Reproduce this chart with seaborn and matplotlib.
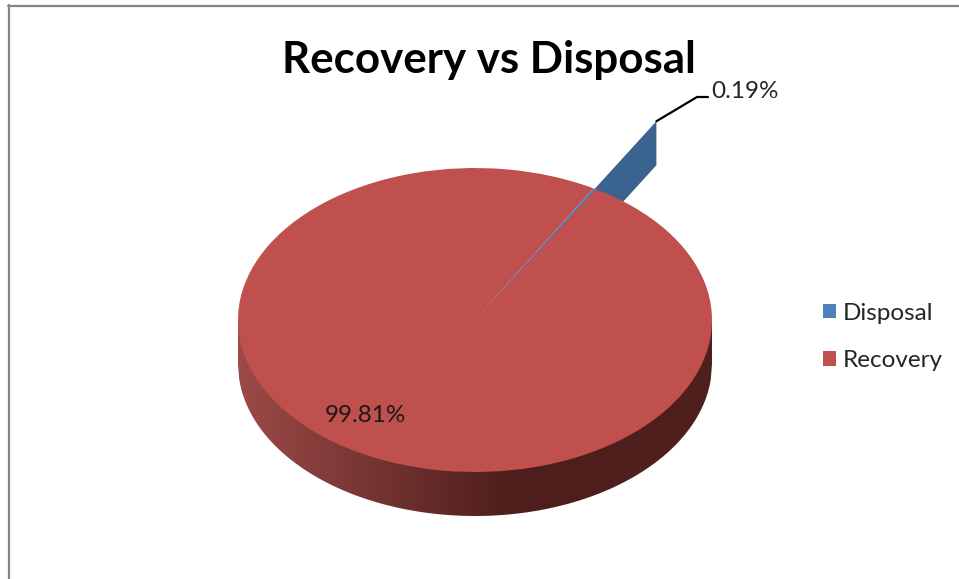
import numpy as np
import matplotlib
matplotlib.use("Agg")
import matplotlib.pyplot as plt
from matplotlib.colors import LinearSegmentedColormap
from matplotlib.lines import Line2D
from matplotlib.patches import Polygon
import seaborn as sns

labels = ["Disposal", "Recovery"]
shares = [0.19, 99.81]
title = "Recovery vs Disposal"

sns.set_theme(style="white")
plt.rcParams["font.family"] = ["Lato", "DejaVu Sans"]
palette = sns.color_palette(["#4F81BD", "#C0504D"])
blue_side = "#3B6390"
W, H = 959, 579
CX, CY, RX, RY = 475, 320, 237, 152
DEPTH = 44 / RY
START = 60
REACH = 1.515


def dx(px):
    return (px - CX) / RX


def dy(py):
    return (CY - py) / RY


fig = plt.figure(figsize=(W / 100, H / 100), dpi=100, facecolor="white")
ax = fig.add_axes([0, 0, 1, 1])

wedges, _ = ax.pie(shares, colors=palette, startangle=START, counterclock=False,
                   radius=1, wedgeprops=dict(linewidth=0, zorder=5))
ax.set_aspect("auto")
ax.set_xlim(dx(0), dx(W))
ax.set_ylim(dy(H), dy(0))
ax.set_axis_off()

# side wall of the large slice, shaded left to right
xs = np.linspace(-1, 1, 400)
lower = -np.sqrt(1 - xs ** 2) - DEPTH
wall = Polygon(np.r_[np.c_[xs, lower], [[1, 0], [-1, 0]]], closed=True,
               transform=ax.transData, facecolor="none", edgecolor="none")
ax.add_patch(wall)
cmap = LinearSegmentedColormap.from_list(
    "wall", [(0, "#9C4A47"), (0.58, "#4D1E1C"), (1, "#4F201E")])
img = ax.imshow(np.linspace(0, 1, 512)[None, :], extent=(-1, 1, -1 - DEPTH, 0),
                aspect="auto", cmap=cmap, zorder=2, interpolation="bilinear")
img.set_clip_path(wall)
ax.set_xlim(dx(0), dx(W))
ax.set_ylim(dy(H), dy(0))

# exploded small slice, seen as a raised side face behind the pie
ang = np.deg2rad(START - 360 * shares[0] / 100 / 2)
tip = REACH * np.array([np.cos(ang), np.sin(ang)])
ax.add_patch(Polygon([(0, 0), tip, tip - [0, DEPTH], (0, -DEPTH)], closed=True,
                     facecolor=blue_side, edgecolor="none", zorder=1))

# leader line and value labels
ax.plot([tip[0], dx(697), dx(708)], [tip[1], dy(97), dy(97)], color="black",
        lw=1.6, zorder=6, solid_joinstyle="miter")
ax.text(dx(711), dy(92), f"{shares[0]:.2f}%", fontsize=17.5, color="#262626",
        ha="left", va="center", zorder=7)
ax.text(dx(365), dy(416), f"{shares[1]:.2f}%", fontsize=17.5, color="#1a1a1a",
        ha="center", va="center", zorder=7)

fig.text(489 / W, 1 - 60 / H, title, fontsize=31.6, fontweight="bold",
         color="black", ha="center", va="center")

ax.legend(wedges, labels, loc="center left",
          bbox_to_anchor=(823 / W, 1 - 337 / H), bbox_transform=fig.transFigure,
          frameon=False, fontsize=17.5, handlelength=0.535, handleheight=0.535,
          handletextpad=0.29, labelspacing=1.08, labelcolor="#262626",
          borderpad=0, borderaxespad=0)

# chart frame
frame = "#868686"
fig.add_artist(Line2D([8 / W, 1], [1 - 5.5 / H, 1 - 5.5 / H], color=frame, lw=1.6))
fig.add_artist(Line2D([8.5 / W, 8.5 / W], [0, 1 - 5 / H], color=frame, lw=1.6))

fig.savefig("out.png", dpi=100)
